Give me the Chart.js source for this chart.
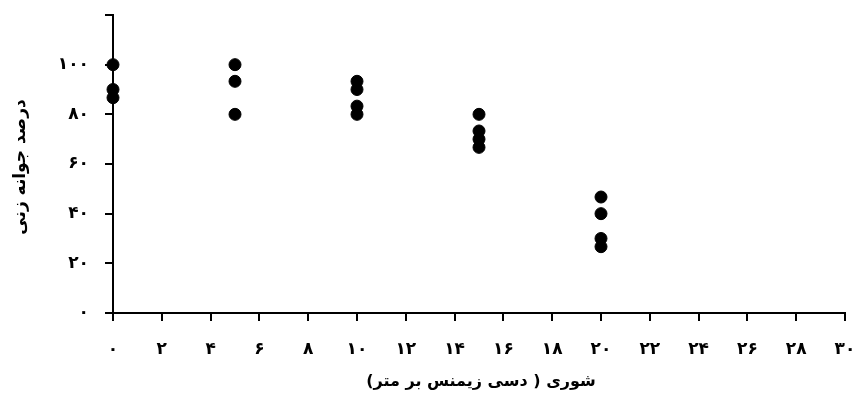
<!DOCTYPE html>
<html>
<head>
<meta charset="utf-8">
<script src="https://cdn.jsdelivr.net/npm/chart.js@4/dist/chart.umd.min.js"></script>
<style>
  html, body { margin: 0; padding: 0; background: #fff; }
  #wrap { width: 860px; height: 394px; }
</style>
</head>
<body>
<div id="wrap"><canvas id="chart"></canvas></div>
<script>
// salinity (dS/m) and germination percent
const salinity = [0, 0, 0, 5, 5, 5, 10, 10, 10, 10, 15, 15, 15, 15, 20, 20, 20, 20];
const germination = [100, 90, 86.7, 100, 93.3, 80, 93.3, 90, 83.3, 80, 80, 73.3, 70, 66.7, 46.7, 40, 30, 26.7];

const xTitle = "شوری ( دسی زیمنس بر متر)";
const yTitle = "درصد جوانه زنی";

const faDigits = "۰۱۲۳۴۵۶۷۸۹";
function toFa(n) {
  return String(n).replace(/[0-9]/g, (d) => faDigits[d]);
}

var points = salinity.map((x, i) => ({ x: x, y: germination[i] }));

// axis titles drawn right-to-left
var titlesPlugin = {
  id: "titles",
  afterDraw(chart) {
    var s = chart.scales.x;
    var a = chart.chartArea;
    var c = chart.ctx;
    c.save();
    c.direction = "rtl";
    c.fillStyle = "#000";
    c.textAlign = "center";
    c.textBaseline = "middle";
    c.font = "bold 16px 'DejaVu Sans'";
    c.fillText(xTitle, (s.left + s.right) / 2 + 2, s.bottom - 12);

    c.font = "bold 17px 'DejaVu Sans'";
    c.translate(21, (a.top + a.bottom) / 2 + 3);
    c.rotate(-Math.PI / 2);
    c.fillText(yTitle, 0, 0);
    c.restore();
  },
};

var ctx = document.getElementById("chart").getContext("2d");
var myChart = new Chart(ctx, {
  type: "scatter",
  data: {
    datasets: [
      {
        data: points,
        backgroundColor: "#000",
        borderColor: "#000",
        pointRadius: 6,
        pointHoverRadius: 6,
        clip: false,
      },
    ],
  },
  options: {
    responsive: true,
    maintainAspectRatio: false,
    animation: false,
    layout: { padding: { top: 15, right: 15, left: 0, bottom: 0 } },
    plugins: { legend: { display: false }, tooltip: { enabled: false } },
    scales: {
      x: {
        type: "linear",
        min: 0,
        max: 30,
        ticks: {
          stepSize: 2,
          color: "#000",
          padding: 18,
          font: { family: "DejaVu Sans", size: 17, weight: "bold" },
          callback: (v) => toFa(v),
        },
        grid: { drawOnChartArea: false, tickLength: 8, color: "#000", lineWidth: 2 },
        border: { color: "#000", width: 2 },
        afterFit: (scale) => {
          scale.height = 81;
          scale.paddingLeft = 0;
          scale.paddingRight = 0;
        },
      },
      y: {
        min: 0,
        max: 120,
        ticks: {
          stepSize: 20,
          color: "#000",
          padding: 16,
          font: { family: "DejaVu Sans", size: 17, weight: "bold" },
          callback: (v) => (v > 100 ? "" : toFa(v)),
        },
        grid: { drawOnChartArea: false, tickLength: 8, color: "#000", lineWidth: 2 },
        border: { color: "#000", width: 2 },
        afterFit: (scale) => {
          scale.width = 113;
          scale.paddingTop = 0;
          scale.paddingBottom = 0;
        },
      },
    },
  },
  plugins: [titlesPlugin],
});
</script>
</body>
</html>
